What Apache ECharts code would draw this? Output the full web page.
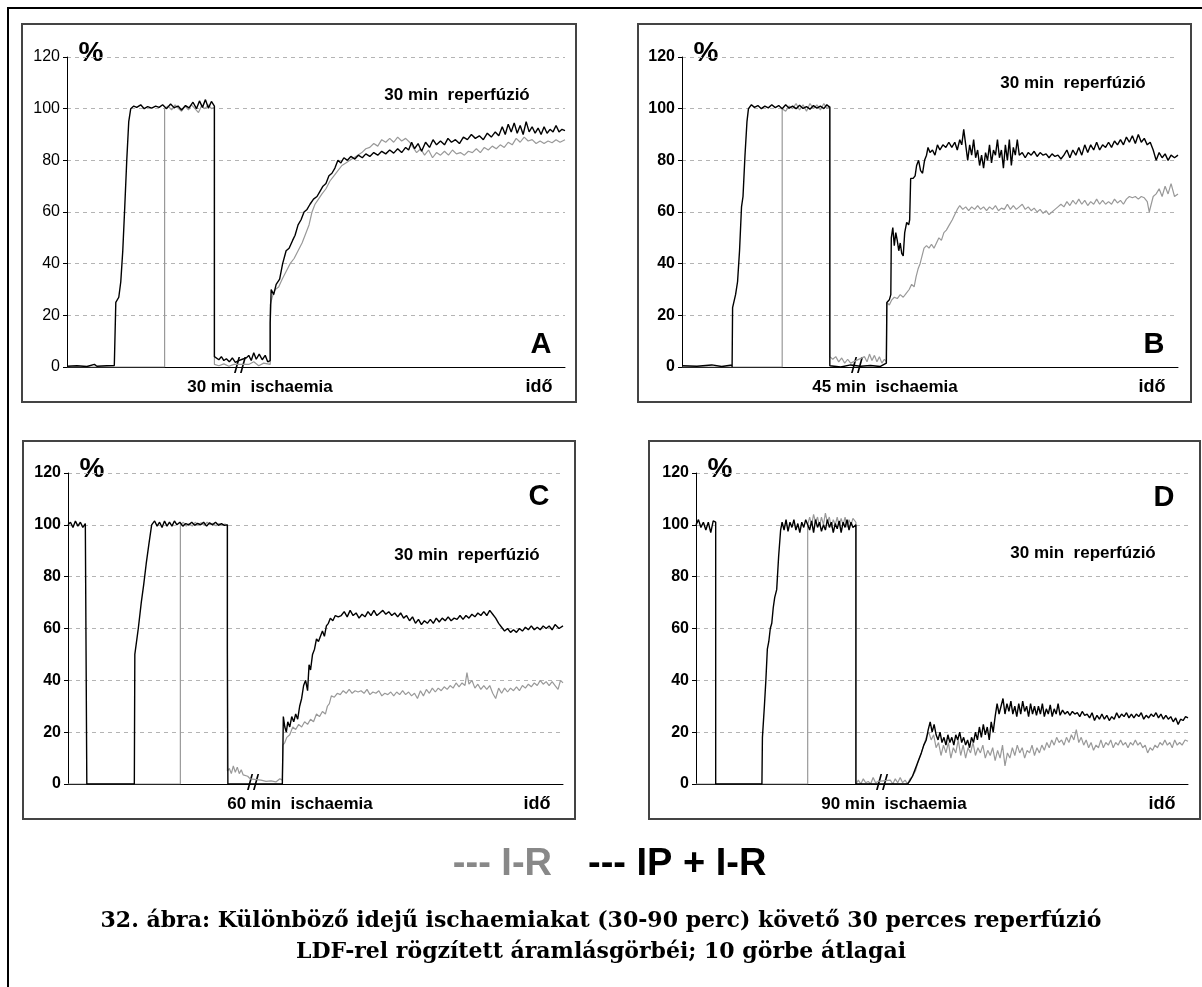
<!DOCTYPE html>
<html style="height: 100%">
    <head>
        <meta charset="utf-8">
    </head>
    <body style="height: 100%; margin: 0; background: #fff;">
        <div id="container" style="width: 1202px; height: 987px;"></div>
        <script src="https://cdn.jsdelivr.net/npm/echarts@6/dist/echarts.min.js"></script>
        <script>
        // LDF flow curves, % of baseline, time axis 0..100 (arbitrary units)
        var aBlack = [[0,0.3],[2,0.5],[4,0.2],[5.5,1],[6,0.3],[8,0.5],[9.5,0.6],[9.6,0],[9.8,25],[10.4,27],[10.8,33],[11.2,45],[11.6,62],[12,80],[12.4,95],[12.8,100],
            [13.4,101],[14,100.5],[14.8,101.5],[15.5,100],[16.2,100.8],[17,100.2],[17.8,101],[18.5,100.5],[19.2,101.5],[20,100],[20.8,101.8],[21.5,100.4],[22.3,101],[23,99.5],[23.8,101.2],[24.5,100.3],[25.3,102.5],[26,100],[26.6,103],[27.2,100.5],[27.8,103.5],[28.4,100.2],[29,102.8],[29.6,101],[29.6,4],
            [30,3.5],[30.5,2.8],[31,4],[31.5,2.5],[32,3.2],[32.6,2],[33.2,3.5],[33.8,1.8],[34.5,2.5],[35.2,3],[36,3.5],[36.5,4.5],[37,2.5],[37.5,5.5],[38,3],[38.6,5],[39.2,2.8],[39.8,4.5],[40.3,2],[40.8,2.5],
            [40.8,17],[41,30],[41.5,28],[42,32],[42.7,34],[43.3,40],[44,45],[44.6,46],[45.3,49],[45.8,51],[46.4,55],[47,57],[47.6,60],[48.2,61],[48.8,63],[49.5,65],[50.2,66],[50.8,68],[51.4,70],[52,71],[52.6,74],[53.2,75],[53.8,77],[54.4,80],[55,79],[55.6,81],[56.3,80],[57,81.5],[57.8,80.5],[58.5,82],[59.3,81],[60,82.5],[60.8,81.5],[61.6,83],[62.4,82],[63.2,83.5],[64,82.5],[64.8,84],[65.6,82.8],[66.4,84.5],[67.2,83],[68,85],[68.6,84],[69.2,87],[69.8,84.5],[70.5,86.5],[71.2,83.5],[72,87],[72.8,85],[73.5,88],[74.2,86],[75,87.5],[75.8,86],[76.5,88.5],[77.2,87],[78,88],[78.8,86.5],[79.6,89],[80.4,88],[81.2,90],[82,88.5],[82.8,89.5],[83.6,88],[84.4,90.5],[85.2,89],[86,91],[86.7,89.5],[87.4,93],[88,90],[88.6,94],[89.2,91],[89.8,94.5],[90.4,90.5],[91,93.5],[91.6,90],[92.2,95],[92.8,91],[93.4,93],[94,90.5],[94.6,92.5],[95.2,90],[95.8,93],[96.4,90.5],[97,92],[97.6,91],[98.2,93.5],[98.8,91],[99.4,92],[100,91.5]];
        var aGray = [[0,0],[19.6,0],[19.6,100],[20.3,101],[21,99.5],[21.7,101.5],[22.4,100],[23,99],[23.7,101],[24.4,99.5],[25,101.5],[25.7,100],[26.4,98.5],[27,101],[27.7,100],[28.4,101.5],[29,100],[29.6,100.5],[29.6,1],
            [30.5,0.5],[31.5,1.2],[32.5,0.3],[33.5,1],[36.5,1],[37.5,2],[38.5,0.5],[39.5,1.5],[40.8,1],
            [40.8,24],[41.2,27],[41.8,30],[42.5,31],[43.2,34],[44,37],[44.8,40],[45.6,42],[46.4,45],[47.2,48],[48,52],[48.6,55],[49.2,60],[49.8,63],[50.5,65],[51.2,67],[52,69],[52.8,72],[53.6,74],[54.4,76],[55.2,78],[56,79],[56.8,80],[57.6,81],[58.4,82],[59.2,83],[60,84.5],[60.8,85],[61.6,86.5],[62.4,85.5],[63.2,88],[64,87],[64.8,88.5],[65.6,87],[66.4,89],[67.2,87.5],[68,88.5],[68.8,87],[69.5,85],[70.2,83],[71,84.5],[71.8,82],[72.6,84],[73.4,81],[74.2,83],[75,82],[75.8,83.5],[76.6,82],[77.4,84],[78.2,82.5],[79,83],[79.8,82],[80.6,83.5],[81.4,83],[82.2,84.5],[83,83],[83.8,85],[84.6,84],[85.4,85.5],[86.2,84.5],[87,86],[87.8,85],[88.6,87],[89.4,86],[90.2,88.5],[91,87],[91.8,89],[92.6,87.5],[93.4,88],[94.2,86.5],[95,87.5],[95.8,86.5],[96.6,87.5],[97.4,86.8],[98.2,88],[99,87],[100,88]];

        var bBlack = [[0,0.5],[3,0.3],[6,0.8],[8,0.2],[10.1,0.8],[10.1,0],[10.2,23],[10.8,28],[11.2,33],[11.6,45],[12,62],[12.3,66],[12.7,82],[13.1,95],[13.4,100],
            [14,101.5],[14.6,100.5],[15.3,101.2],[16,100],[16.7,101],[17.4,100.3],[18.1,101.5],[18.8,100.4],[19.5,101.2],[20.2,100],[20.9,101.5],[21.6,100.2],[22.3,101],[23,100],[23.7,101.3],[24.4,100.1],[25.1,100.8],[25.8,99.8],[26.5,101.2],[27.2,100.2],[27.9,101],[28.6,100],[29.2,101.5],[29.8,100.5],[29.8,0.5],
            [32,0],[34,0.8],[36,0.3],[38,0.6],[40,0.2],[41.2,1.5],
            [41.3,25],[41.8,26],[42.1,28],[42.2,50],[42.5,54],[42.8,47],[43.1,52],[43.4,49],[43.7,45],[44,48],[44.3,44],[44.6,43],[44.9,52],[45.3,56],[45.7,55],[45.9,57],[46.1,73],[46.6,73],[47,74],[47.3,78],[47.7,80],[48.1,76],[48.5,75],[48.9,80],[49.3,82],[49.6,85],[50,83],[50.5,84],[51,82],[51.5,86],[52,84],[52.6,86],[53.2,85],[53.8,87],[54.4,85],[55,87],[55.5,84],[56,88],[56.4,86],[56.8,92],[57.2,86],[57.6,80],[58,86],[58.4,82],[58.8,88],[59.2,81],[59.6,84],[60,78],[60.4,82],[60.8,77],[61.2,83],[61.6,80],[62,86],[62.4,79],[62.8,84],[63.2,82],[63.6,88],[64,81],[64.4,84],[64.8,77],[65.2,86],[65.6,80],[66,88],[66.4,78],[66.8,85],[67.2,82],[67.6,88],[68,82],[68.6,83],[69.2,81],[69.8,83],[70.4,82],[71,83.5],[71.6,81.5],[72.2,83],[72.8,82],[73.4,82.5],[74,81],[74.6,82.5],[75.2,81.5],[75.8,82],[76.4,80.5],[77,82],[77.6,84],[78.2,81],[78.8,84],[79.4,82],[80,85],[80.6,82],[81.2,86],[81.8,83],[82.4,86],[83,84],[83.6,87],[84.2,84],[84.8,86],[85.4,85],[86,87],[86.6,85],[87.2,87.5],[87.8,86],[88.4,88],[89,86],[89.6,89],[90.2,87],[90.8,89.5],[91.4,86.5],[92,90],[92.6,87],[93.2,88.5],[93.8,86],[94.4,87],[95,84],[95.6,80],[96.2,83],[96.8,81],[97.4,82.5],[98,80],[98.6,82],[99.3,81],[100,82]];
        var bGray = [[0,0],[20.2,0],[20.2,100],[20.9,99],[21.6,101],[22.3,100],[23,102],[23.7,99.5],[24.4,101.5],[25.1,99],[25.8,102],[26.5,100],[27.2,101.5],[27.9,99.5],[28.6,102],[29.2,100],[29.8,101],[29.8,4],
            [30.4,3],[31,4],[31.6,2],[32.2,3.5],[32.8,1.5],[33.4,3],[34,1.5],[36.8,4],[37.3,2],[37.8,5],[38.3,2.5],[38.8,4.5],[39.3,2],[39.8,4],[40.3,1.5],[40.8,3],[41.2,2],
            [41.3,25],[41.8,24],[42.3,26],[42.8,27],[43.4,26.5],[44,28],[44.6,27],[45.2,28.5],[45.8,30],[46.3,32],[46.8,31],[47.2,35],[47.6,38],[48,40],[48.4,43],[48.8,46],[49.3,47],[49.8,46],[50.3,47.5],[50.8,46],[51.3,48],[51.8,50],[52.3,49],[52.8,52],[53.3,53],[53.9,55],[54.5,57],[55,59],[55.5,61],[56,62.5],[56.6,61],[57.2,62],[57.8,60.5],[58.4,62],[59,61],[59.6,62.5],[60.2,61],[60.8,62],[61.4,60.5],[62,62],[62.6,61],[63.2,62.5],[63.8,60.5],[64.4,61.5],[65,61],[65.6,63],[66.2,61],[66.8,62.5],[67.4,61],[68,62],[68.6,63],[69.2,61],[69.8,62],[70.4,60.5],[71,61.5],[71.6,60],[72.2,61],[72.8,59.5],[73.4,60.5],[74,59],[74.6,60],[75.2,61],[75.8,62],[76.4,63],[77,62],[77.6,64],[78.2,62.5],[78.8,64.5],[79.4,63],[80,65],[80.6,63],[81.2,64.5],[81.8,62.5],[82.4,64],[83,63],[83.6,65],[84.2,63],[84.8,64.5],[85.4,63],[86,64],[86.6,63],[87.2,65],[87.8,63.5],[88.4,64.5],[89,63],[89.6,65],[90.2,66],[90.8,65.5],[91.4,66],[92,65],[92.6,66],[93.2,65.5],[93.8,64],[94.2,60],[94.6,63],[95,66],[95.6,67],[96.2,69],[96.8,66],[97.4,70],[98,67],[98.6,71],[99.3,66],[100,67]];

        var cBlack = [[0,100],[0.5,101],[1,99],[1.5,101.5],[2,99.5],[2.5,101],[3,99],[3.5,100.5],[3.8,100],[3.8,0],[13.4,0],
            [13.5,50],[14.2,60],[14.8,70],[15.3,77],[15.8,85],[16.3,92],[16.9,100],[17.5,101.5],[18,99.5],[18.5,101],[19,99],[19.5,101.5],[20,99.5],[20.5,101],[21,99.5],[21.5,101.5],[22,100],[22.6,101],[23.2,99.5],[23.8,100.5],[24.4,100],[25,101],[25.6,99.8],[26.2,100.6],[26.8,100],[27.4,101],[28,99.5],[28.6,100.8],[29.2,100],[29.8,101],[30.4,99.8],[31,100.5],[31.6,99.8],[32.2,100],[32.2,52],[32.3,0],[43.3,0],
            [43.4,12],[43.5,26],[43.8,22],[44.1,20],[44.4,24],[44.8,22],[45.2,26],[45.6,24],[46,27],[46.4,25],[46.8,30],[47.2,33],[47.6,38],[48,40],[48.4,36],[48.7,46],[49,44],[49.4,50],[49.8,52],[50.2,56],[50.6,55],[51,57],[51.4,59],[51.8,57],[52.2,61],[52.6,62],[53,64],[53.5,63],[54,65],[54.6,64.5],[55.2,65],[55.8,66.5],[56.4,64.5],[57,67],[57.6,65],[58.2,66],[58.8,64],[59.4,65.5],[60,64.5],[60.6,66.5],[61.2,65],[61.8,67],[62.4,65],[63,66],[63.6,67],[64.2,65.5],[64.8,66.5],[65.4,65],[66,66],[66.6,64.5],[67.2,66],[67.8,64],[68.4,65],[69,63],[69.6,64.5],[70.2,62],[70.8,63.5],[71.4,61.5],[72,63],[72.6,62],[73.2,63.5],[73.8,62],[74.4,64],[75,62.5],[75.6,64],[76.2,63],[76.8,64.5],[77.4,63],[78,64],[78.6,63.5],[79.2,65],[79.8,63.5],[80.4,65],[81,64],[81.6,65.5],[82.2,64.5],[82.8,66],[83.4,65],[84,66.5],[84.6,65],[85.2,67],[85.8,65.5],[86.4,64],[87,62],[87.6,60.5],[88.2,59],[88.8,60],[89.4,58.5],[90,59.5],[90.6,58.5],[91.2,60],[91.8,59],[92.4,60.5],[93,59.5],[93.6,61],[94.2,59.5],[94.8,60.5],[95.4,59.5],[96,61],[96.6,60],[97.2,61],[97.8,59.5],[98.4,61.5],[99.2,60],[100,61]];
        var cGray = [[0,0],[22.7,0],[22.7,100],[23.3,101],[23.9,99.5],[24.5,100.5],[25.1,99.5],[25.7,101],[26.3,100],[26.9,100.8],[27.5,99.8],[28.1,101],[28.7,100],[29.3,100.6],[29.9,99.6],[30.5,100.5],[31.1,99.8],[31.7,100.3],[32.2,99.8],[32.2,5],
            [32.6,6],[33,4],[33.4,7],[33.8,4.5],[34.2,6.5],[34.6,4],[35,5.5],[35.4,3.5],[35.8,4],[36.3,3],[36.8,2],[39,1.5],[40,1],[41,1.2],[42,0.8],[42.8,2],[43.3,1.5],
            [43.4,15],[43.8,16],[44.2,18],[44.8,19],[45.4,22],[46,21],[46.6,23],[47.2,22],[47.8,24],[48.4,23],[49,25],[49.6,24],[50.2,27],[50.8,26],[51.4,28],[52,27],[52.4,30],[52.8,31],[53.2,34],[53.8,33.5],[54.4,35],[55,34.5],[55.6,36],[56.2,35],[56.8,36.5],[57.4,35],[58,36],[58.6,35.5],[59.2,36],[59.8,35],[60.4,36.5],[61,34.5],[61.6,35.5],[62.2,35],[62.8,36],[63.4,34],[64,35],[64.6,34.5],[65.2,35.5],[65.8,34],[66.4,35.5],[67,34.5],[67.6,36],[68.2,34.5],[68.8,35.5],[69.4,34],[70,35],[70.6,33],[71.2,36],[71.8,34],[72.4,36.5],[73,35],[73.6,37],[74.2,35.5],[74.8,37],[75.4,36],[76,37.5],[76.6,36.5],[77.2,38],[77.8,37],[78.4,39],[79,37.5],[79.6,39],[80.2,38],[80.6,43],[81,38.5],[81.6,40],[82.2,37],[82.8,38.5],[83.4,36.5],[84,38],[84.6,36.5],[85.2,38],[85.8,35],[86.4,33],[87,37],[87.6,35],[88.2,37],[88.8,35.5],[89.4,37],[90,36],[90.6,37.5],[91.2,36],[91.8,38],[92.4,37],[93,38.5],[93.6,37.5],[94.2,39],[94.8,38],[95.4,40],[96,38.5],[96.6,39.5],[97.2,38],[97.8,39.5],[98.4,38],[99,36.5],[99.5,40],[100,39]];

        var dBlack = [[0,100],[0.5,102],[1,99],[1.5,101],[2,98],[2.5,101],[3,97],[3.5,101.5],[4,101],[4,0],[13.4,0],
            [13.5,18],[13.9,30],[14.2,40],[14.5,52],[14.8,55],[15.1,60],[15.4,62],[15.7,68],[16,72],[16.4,75],[16.8,88],[17.2,98],[17.5,101],[17.9,98],[18.3,102],[18.7,97.5],[19.1,101],[19.5,99],[19.9,102],[20.3,98],[20.7,100.5],[21.1,97],[21.5,101],[21.9,99],[22.3,102],[22.7,100],[23.1,98],[23.5,101.5],[23.9,97],[24.3,102],[24.7,99],[25.1,101],[25.5,97.5],[25.9,100],[26.3,98],[26.7,102],[27.1,99],[27.5,101],[27.9,97],[28.3,100.5],[28.7,98.5],[29.1,101.5],[29.5,97],[29.9,101],[30.3,99],[30.7,102],[31.1,98],[31.5,101],[31.9,99],[32.5,100],[32.5,0],[43,0],
            [43.4,1],[44,3],[44.6,6],[45.2,9],[45.8,12],[46.3,15],[46.8,17],[47.2,21],[47.6,24],[48,20],[48.4,23],[48.8,19],[49.2,17],[49.6,20],[50,16],[50.4,18],[50.8,15],[51.2,19],[51.6,16],[52,18],[52.4,15],[52.8,19],[53.2,17],[53.6,20],[54,16],[54.4,18],[54.8,15],[55.2,17],[55.6,14],[56,18],[56.4,16],[56.8,20],[57.2,17],[57.6,22],[58,18],[58.4,23],[58.8,19],[59.2,22],[59.6,17],[60,24],[60.4,20],[60.8,26],[61.2,31],[61.6,27],[62,30],[62.4,33],[62.8,27],[63.2,31],[63.6,28],[64,32],[64.4,27],[64.8,30],[65.2,26],[65.6,31],[66,27],[66.4,32],[66.8,28],[67.2,30],[67.6,26],[68,31],[68.4,27],[68.8,30],[69.2,26.5],[69.6,30],[70,27],[70.4,31],[70.8,26],[71.2,29],[71.6,27],[72,30.5],[72.4,26],[72.8,29],[73.2,27],[73.6,31],[74,26.5],[74.5,28.5],[75,27],[75.5,28],[76,26.5],[76.5,28],[77,27],[77.5,27.5],[78,26],[78.5,28],[79,26.5],[79.5,27],[80,25.5],[80.5,27.5],[81,24.5],[81.5,26.5],[82,25],[82.5,27],[83,25],[83.5,26.5],[84,24.5],[84.5,26],[85,25],[85.5,27.5],[86,25.5],[86.5,27],[87,26],[87.5,27.5],[88,25.5],[88.5,27],[89,25.5],[89.5,27],[90,26],[90.5,27.5],[91,25],[91.5,26.5],[92,25.5],[92.5,27],[93,26],[93.5,27.5],[94,25.5],[94.5,27],[95,25],[95.5,26.5],[96,25],[96.5,26],[97,24],[97.5,25.5],[98,23],[98.5,25],[99,24.5],[99.5,26],[100,25.5]];
        var dGray = [[0,0],[22.7,0],[22.7,100],[23.1,103],[23.5,100],[23.9,104],[24.3,101],[24.7,103],[25.1,99.5],[25.5,103],[25.9,100],[26.3,104.5],[26.7,101],[27.1,103],[27.5,99],[27.9,102],[28.3,100],[28.7,103],[29.1,99.5],[29.5,102.5],[29.9,100],[30.3,103],[30.7,99],[31.1,102],[31.5,100],[31.9,102.5],[32.5,101],[32.5,0],
            [33,1.5],[33.5,0],[34,2],[34.5,0.5],[35,1],[35.5,0],[36,2.5],[36.5,0.5],[37,1],[39.5,1.5],[40,0],[40.5,2],[41,0.5],[41.5,2.5],[42,0.5],[42.5,1.5],[43,0],[43.5,2],
            [44,3],[44.6,5],[45.2,9],[45.8,12],[46.3,15],[46.8,18],[47.3,20],[47.8,17],[48.3,19],[48.8,14],[49.3,16],[49.8,11],[50.3,15],[50.8,12],[51.3,16],[51.8,10],[52.3,14],[52.8,12],[53.3,17],[53.8,11],[54.3,15],[54.8,10],[55.3,14],[55.8,12],[56.3,16],[56.8,11],[57.3,14],[57.8,12],[58.3,15],[58.8,10],[59.3,13],[59.8,11],[60.3,14],[60.8,9],[61.3,13],[61.8,10],[62.3,15],[62.8,7],[63.3,12],[63.8,10],[64.3,14],[64.8,11],[65.3,15],[65.8,12],[66.3,14],[66.8,10],[67.3,13],[67.8,12],[68.3,15],[68.8,11],[69.3,14],[69.8,12],[70.3,15],[70.8,13],[71.3,16],[71.8,14],[72.3,17],[72.8,15],[73.3,18],[73.8,16],[74.3,17],[74.8,15],[75.3,18],[75.8,16],[76.3,19],[76.8,17],[77.3,21],[77.8,16],[78.3,18],[78.8,15],[79.3,17],[79.8,14],[80.3,16],[80.8,13],[81.3,15],[81.8,14],[82.3,17],[82.8,14],[83.3,16],[83.8,15],[84.3,17],[84.8,14],[85.3,16],[85.8,15],[86.3,17],[86.8,15],[87.3,16],[87.8,14],[88.3,16],[88.8,15],[89.3,17],[89.8,15],[90.3,16],[90.8,14],[91.3,15],[91.8,12],[92.3,14],[92.8,13],[93.3,15],[93.8,14],[94.3,16],[94.8,15],[95.3,17],[95.8,15],[96.3,16],[96.8,14],[97.3,17],[97.8,15],[98.3,16],[98.8,15],[99.4,17],[100,16.5]];

        var panelLetters = ['A', 'B', 'C', 'D'];
        var ischaemiaLabels = ['30 min  ischaemia', '45 min  ischaemia', '60 min  ischaemia', '90 min  ischaemia'];
        var reperfLabel = '30 min  reperfúzió';
        var legendLabels = ['--- I-R', '--- IP + I-R'];
        var captionLines = [
            '32. ábra: Különböző idejű ischaemiakat (30-90 perc) követő 30 perces reperfúzió',
            'LDF-rel rögzített áramlásgörbéi; 10 görbe átlagai'
        ];

        var blackData = [aBlack, bBlack, cBlack, dBlack];
        var grayData = [aGray, bGray, cGray, dGray];

        // layout of the four panels (pixels)
        var panels = [
            { box: [22, 24, 554, 378], grid: [67, 57, 498, 310], letterY: 345, reperfY: 95, reperfX: 457, ischX: 260, brkX: 240 },
            { box: [638, 24, 553, 378], grid: [682, 57, 496, 310], letterY: 345, reperfY: 83, reperfX: 1073, ischX: 885, brkX: 857 },
            { box: [23, 441, 552, 378], grid: [68, 473, 495, 311], letterY: 497, reperfY: 555, reperfX: 467, ischX: 300, brkX: 253 },
            { box: [649, 441, 551, 378], grid: [696, 473, 492, 311], letterY: 498, reperfY: 553, reperfX: 1083, ischX: 894, brkX: 882 }
        ];

        var labelFont = "'Liberation Sans Narrow', 'Arial Narrow', 'Liberation Sans', sans-serif";
        var textFont = "'Liberation Sans', Arial, sans-serif";

        var chart = echarts.init(document.getElementById('container'));

        var grids = [], xAxes = [], yAxes = [], series = [], graphics = [];

        graphics.push({
            type: 'rect', silent: true,
            shape: { x: 8, y: 8, width: 1300, height: 1300 },
            style: { fill: null, stroke: '#000', lineWidth: 2 }
        });

        panels.forEach(function (p, i) {
            grids.push({ left: p.grid[0], top: p.grid[1], width: p.grid[2], height: p.grid[3] });
            xAxes.push({
                type: 'value', gridIndex: i, min: 0, max: 100,
                axisLine: { show: true, onZero: false, lineStyle: { color: '#000', width: 1 } },
                axisTick: { show: false }, axisLabel: { show: false }, splitLine: { show: false }
            });
            yAxes.push({
                type: 'value', gridIndex: i, min: 0, max: 120, interval: 20,
                axisLine: { show: true, lineStyle: { color: '#000', width: 1 } },
                axisTick: { show: true, length: 4, lineStyle: { color: '#000' } },
                axisLabel: {
                    color: '#000', fontFamily: labelFont, fontSize: 16,
                    fontWeight: i === 0 ? 'normal' : 'bold', margin: 7
                },
                splitLine: { show: true, lineStyle: { color: '#b4b4b4', type: [4, 4], width: 1 } }
            });
            series.push({
                name: 'I-R', type: 'line', xAxisIndex: i, yAxisIndex: i,
                data: grayData[i], showSymbol: false, symbol: 'none', silent: true,
                lineStyle: { color: '#999', width: 1.2 }, z: 2
            });
            series.push({
                name: 'IP + I-R', type: 'line', xAxisIndex: i, yAxisIndex: i,
                data: blackData[i], showSymbol: false, symbol: 'none', silent: true,
                lineStyle: { color: '#000', width: 1.4 }, z: 3
            });

            var gx = p.grid[0], gy = p.grid[1], gw = p.grid[2], gh = p.grid[3];
            graphics.push({
                type: 'rect', silent: true,
                shape: { x: p.box[0], y: p.box[1], width: p.box[2], height: p.box[3] },
                style: { fill: null, stroke: '#444', lineWidth: 2 }
            });
            graphics.push({
                type: 'text', silent: true, x: gx + 24, y: gy - 4,
                style: { text: '%', font: 'bold 28px ' + labelFont, fill: '#000', align: 'center', verticalAlign: 'middle' }
            });
            graphics.push({
                type: 'text', silent: true, x: gx + gw - 24, y: p.letterY,
                style: { text: panelLetters[i], font: 'bold 29px ' + textFont, fill: '#000', align: 'center', verticalAlign: 'middle' }
            });
            graphics.push({
                type: 'text', silent: true, x: p.reperfX, y: p.reperfY,
                style: { text: reperfLabel, font: 'bold 17px ' + textFont, fill: '#000', align: 'center', verticalAlign: 'middle' }
            });
            graphics.push({
                type: 'text', silent: true, x: p.ischX, y: gy + gh + 20,
                style: { text: ischaemiaLabels[i], font: 'bold 17px ' + textFont, fill: '#000', align: 'center', verticalAlign: 'middle' }
            });
            graphics.push({
                type: 'text', silent: true, x: gx + gw - 26, y: gy + gh + 20,
                style: { text: 'idő', font: 'bold 18px ' + textFont, fill: '#000', align: 'center', verticalAlign: 'middle' }
            });
            graphics.push({
                type: 'text', silent: true, x: p.brkX, y: gy + gh,
                style: { text: '//', font: '22px ' + textFont, fill: '#000', align: 'center', verticalAlign: 'middle' }
            });
        });

        // legend as plain text
        graphics.push({
            type: 'text', silent: true, x: 552, y: 865,
            style: { text: legendLabels[0], font: 'bold 38px ' + textFont, fill: '#888', align: 'right', verticalAlign: 'middle' }
        });
        graphics.push({
            type: 'text', silent: true, x: 588, y: 865,
            style: { text: legendLabels[1], font: 'bold 38px ' + textFont, fill: '#000', align: 'left', verticalAlign: 'middle' }
        });
        // caption
        captionLines.forEach(function (line, k) {
            graphics.push({
                type: 'text', silent: true, x: 601, y: 921 + k * 31,
                style: { text: line, font: "bold 22px 'DejaVu Serif', serif", fill: '#000', align: 'center', verticalAlign: 'middle' }
            });
        });

        var option = {
            animation: false,
            backgroundColor: '#fff',
            grid: grids,
            xAxis: xAxes,
            yAxis: yAxes,
            series: series,
            graphic: graphics
        };
        chart.setOption(option);
        </script>
    </body>
</html>
